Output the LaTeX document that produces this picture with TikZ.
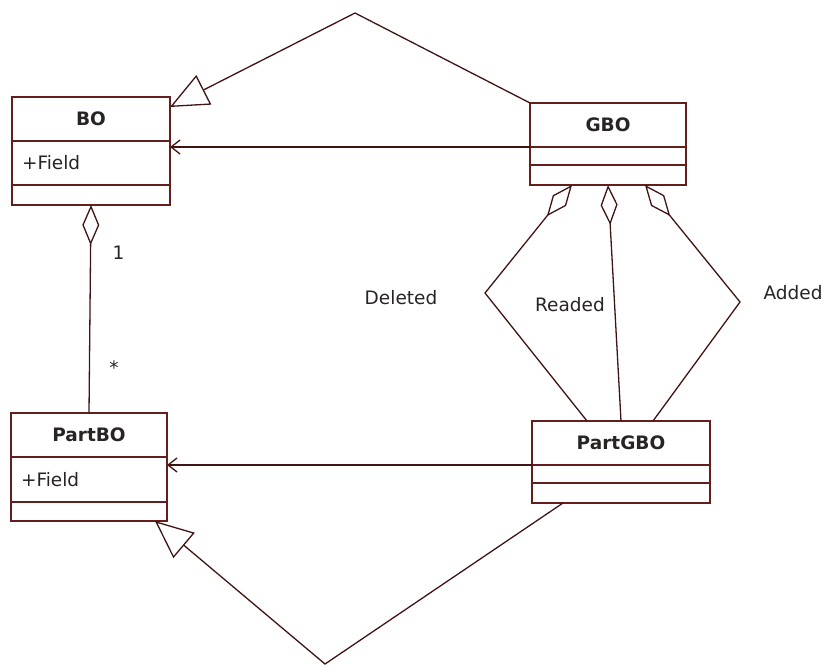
\documentclass[tikz,border=0pt]{standalone}
\usepackage{fontspec}
\setmainfont{DejaVu Sans}
\usepackage{tikz}
\usetikzlibrary{arrows.meta,positioning}
\definecolor{umlc}{RGB}{100,30,30}
\definecolor{umlt}{RGB}{40,36,36}

\begin{document}
\begin{tikzpicture}[x=1pt,y=-1pt,
  font=\fontsize{18.5}{22}\selectfont,
  nombre/.style={draw=umlc,line width=1.5pt,outer sep=0pt,inner sep=0pt,
                 minimum height=44pt,text=umlt,
                 font=\fontsize{18.5}{22}\selectfont\bfseries},
  campo/.style={draw=umlc,line width=1.5pt,outer sep=0pt,inner xsep=10pt,
                inner ysep=0pt,align=left,text=umlt},
  her/.style={-{Triangle[open,length=38pt,width=33pt]},draw=umlc!65!black,line width=1.3pt},
  aso/.style={-{Straight Barb[length=9pt,width=14pt]},draw=umlc!65!black,line width=1.3pt},
  agr/.style={{Diamond[open,length=40pt,width=17pt]}-,draw=umlc!65!black,line width=1.3pt},
  et/.style={text=umlt}]

  \useasboundingbox (0,0) rectangle (826,666);

  % clases de negocio
  \node[nombre,minimum width=158pt] (bo) at (91,119) {BO};
  \node[campo,below=0pt of bo,text width=138pt,minimum height=44pt] (bof) {+Field};
  \node[campo,below=0pt of bof,minimum width=158pt,minimum height=20pt] (boo) {};

  \node[nombre,minimum width=156pt] (pbo) at (89,435) {PartBO};
  \node[campo,below=0pt of pbo,text width=136pt,minimum height=45pt] (pbof) {+Field};
  \node[campo,below=0pt of pbof,minimum width=156pt,minimum height=19pt] (pboo) {};

  % clases genericas
  \node[nombre,minimum width=156pt] (gbo) at (608,125) {GBO};
  \node[campo,below=0pt of gbo,minimum width=156pt,minimum height=18pt] (gbof) {};
  \node[campo,below=0pt of gbof,minimum width=156pt,minimum height=20pt] (gboo) {};

  \node[nombre,minimum width=178pt] (pgbo) at (621,443) {PartGBO};
  \node[campo,below=0pt of pgbo,minimum width=178pt,minimum height=18pt] (pgbof) {};
  \node[campo,below=0pt of pgbof,minimum width=178pt,minimum height=20pt] (pgboo) {};

  \coordinate (cima) at (355,13);
  \coordinate (base) at (325,664);
  \coordinate (esqi) at (485,293);
  \coordinate (esqd) at (740,302);

  % herencia y asociaciones
  \draw[her] (gbo.north west) -- (cima) -- ([yshift=-10pt]bo.north east);
  \draw[aso] (gbo.south west) -- (gbo.south west -| bof.east);
  \draw[aso] (pgbo.south west) -- (pgbo.south west -| pbof.east);
  \draw[her] ([xshift=31pt]pgboo.south west) -- (base) -- ([xshift=-12pt]pboo.south east);

  \draw[agr] (boo.south) -- node[et,pos=0.23,right=18pt]{1}
                            node[et,pos=0.78,right=16pt]{*} (pbo.north);

  % agregaciones GBO -> PartGBO
  \draw[agr] ([xshift=-36pt]gboo.south) -- (esqi) -- ([xshift=-34pt]pgbo.north);
  \draw[agr] (gboo.south) -- (pgbo.north);
  \draw[agr] ([xshift=37pt]gboo.south) -- (esqd) -- ([xshift=32pt]pgbo.north);

  \node[et] (del) at (401,298) {Deleted};
  \node[et] (rea) at (570,305) {Readed};
  \node[et] (add) at (793,293) {Added};
\end{tikzpicture}
\end{document}
